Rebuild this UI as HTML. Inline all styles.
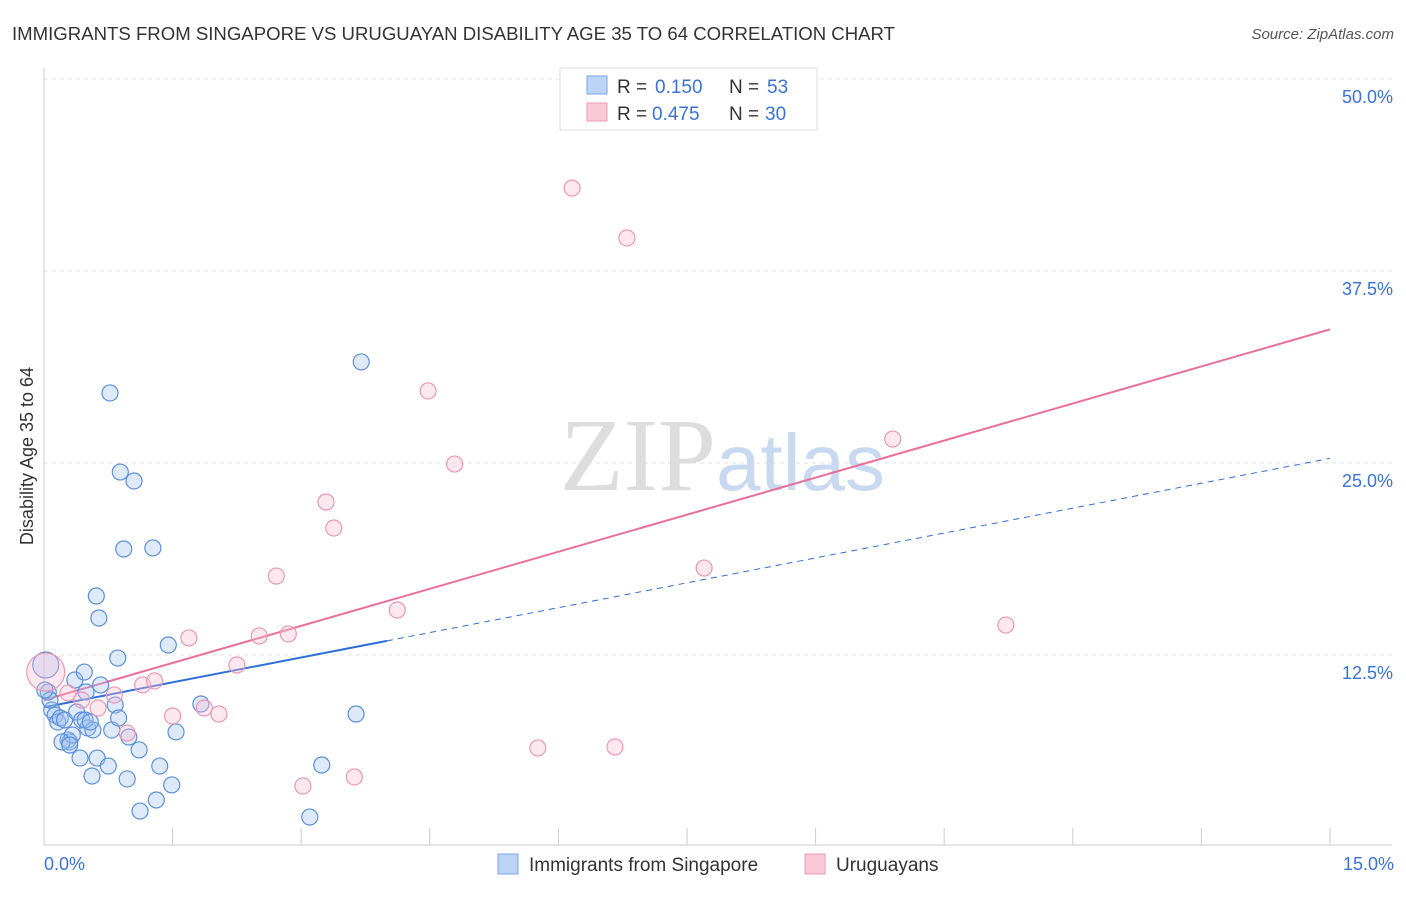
<!DOCTYPE html>
<html><head><meta charset="utf-8"><style>
body{margin:0;background:#fff;font-family:"Liberation Sans",sans-serif}
</style></head><body>
<svg width="1406" height="892" viewBox="0 0 1406 892" xmlns="http://www.w3.org/2000/svg">
<text x="12" y="40" font-size="18" fill="#333" textLength="883" lengthAdjust="spacingAndGlyphs">IMMIGRANTS FROM SINGAPORE VS URUGUAYAN DISABILITY AGE 35 TO 64 CORRELATION CHART</text>
<text x="1394" y="39" font-size="15" fill="#555" font-style="italic" text-anchor="end">Source: ZipAtlas.com</text>
<g id="grid"></g>
<text x="716" y="490" font-size="104" fill="#ddd" text-anchor="end" font-family="Liberation Serif,serif">ZIP</text>
<text x="716" y="490" font-size="80" fill="#c9daf0">atlas</text>
<line x1="44" y1="68" x2="44" y2="845" stroke="#ccc"/>
<line x1="44" y1="845" x2="1392" y2="845" stroke="#ccc"/>
<g id="xticks"></g>
<g id="yticks"></g>
<text x="44" y="870" font-size="18" fill="#3a72d8">0.0%</text>
<text x="1394" y="870" font-size="18" fill="#3a72d8" text-anchor="end">15.0%</text>
<text transform="translate(33,456) rotate(-90)" font-size="18" fill="#333" text-anchor="middle">Disability Age 35 to 64</text>
<g id="lines"></g>
<g id="pts"></g>
<g>
<rect x="560" y="68" width="257" height="62" fill="#fff" stroke="#ddd"/>
<rect x="587" y="76" width="20" height="18" fill="#bcd4f6" stroke="#7aa5e8"/>
<rect x="587" y="103" width="20" height="18" fill="#f9c9d8" stroke="#ee9ab5"/>
<g font-size="19" fill="#333">
<text x="617" y="93">R =</text><text x="655" y="93" fill="#3a72d8">0.150</text><text x="729" y="93">N =</text><text x="767" y="93" fill="#3a72d8">53</text></g>
<g font-size="19" fill="#333">
<text x="617" y="120">R =</text><text x="652" y="120" fill="#3a72d8">0.475</text><text x="729" y="120">N =</text><text x="765" y="120" fill="#3a72d8">30</text></g>
</g>
<g>
<rect x="498" y="854" width="20" height="20" fill="#bcd4f6" stroke="#7aa5e8"/>
<text x="529" y="871" font-size="19" fill="#333">Immigrants from Singapore</text>
<rect x="805" y="854" width="20" height="20" fill="#f9c9d8" stroke="#ee9ab5"/>
<text x="836" y="871" font-size="19" fill="#333">Uruguayans</text>
</g>
</svg>
<script>
const yTicks=[12.5,25,37.5,50];
const yTickLabels=["12.5%","25.0%","37.5%","50.0%"];
const blueX=[0.02,0.05,0.09,0.13,0.16,0.19,0.24,0.28,0.30,0.33,0.36,0.38,0.42,0.44,0.47,0.49,0.51,0.56,0.57,0.61,0.62,0.64,0.66,0.75,0.77,0.79,0.83,0.86,0.87,0.89,0.93,0.97,0.99,1.05,1.11,1.12,1.27,1.31,1.35,1.45,1.49,1.54,1.83,3.10,3.24,3.64,3.70,0.21,0.30,0.48,0.54,0.07,0.01];
const blueY=[11.85,10.09,8.92,8.59,8.14,8.40,8.27,6.97,6.84,7.29,10.87,8.79,5.79,8.27,11.39,10.09,7.75,4.62,7.62,16.34,5.79,14.91,10.55,5.27,29.56,7.62,9.24,12.30,8.40,24.41,19.40,4.43,7.16,23.83,6.32,2.34,19.47,3.06,5.27,13.15,4.04,7.49,9.31,1.95,5.34,8.66,31.58,6.84,6.64,8.27,8.14,9.57,10.22];
const pinkX=[0.02,0.28,0.44,0.63,0.82,0.97,1.15,1.29,1.50,1.69,1.87,2.04,2.25,2.51,2.71,2.85,3.02,3.29,3.38,3.62,4.12,4.48,4.79,5.76,6.16,6.66,6.80,7.70,9.90,11.22];
const pinkY=[11.39,10.03,9.57,9.05,9.90,7.42,10.55,10.81,8.53,13.61,9.05,8.66,11.85,13.74,17.64,13.87,3.97,22.46,20.77,4.56,15.43,29.69,24.93,6.45,42.90,6.51,39.65,18.16,26.56,14.45];
const blueTrend=[9.1,25.3];
const pinkTrend=[9.57,33.7];
const NS="http://www.w3.org/2000/svg";
const sx=v=>44+v*85.73, sy=v=>847-v*15.36;
function mk(tag,attrs,parent){const e=document.createElementNS(NS,tag);for(const k in attrs)e.setAttribute(k,attrs[k]);document.getElementById(parent).appendChild(e);return e;}
yTicks.forEach((t,i)=>{
 const l=mk('line',{x1:44,x2:1392,y1:sy(t),y2:sy(t),stroke:'#e2e2e2','stroke-dasharray':'4,4'},'grid');
 
 
 const tx=mk('text',{x:1393,y:sy(t)+24,'font-size':18,fill:'#3a72d8','text-anchor':'end'},'yticks');
 tx.textContent=yTickLabels[i];
 
 
});
for(let i=1;i<=10;i++){
 const l=mk('line',{x1:sx(i*1.5),x2:sx(i*1.5),y1:828,y2:845,stroke:'#ccc'},'xticks');
 
 
}
const by=x=>blueTrend[0]+(blueTrend[1]-blueTrend[0])*x/15;
let l=mk('line',{x1:sx(0),y1:sy(by(0)),x2:sx(4),y2:sy(by(4)),stroke:'#2f6fd6','stroke-width':2},'lines');


l=mk('line',{x1:sx(4),y1:sy(by(4)),x2:sx(15),y2:sy(by(15)),stroke:'#2f6fd6','stroke-width':1,'stroke-dasharray':'6,5'},'lines');


l=mk('line',{x1:sx(0),y1:sy(pinkTrend[0]),x2:sx(15),y2:sy(pinkTrend[1]),stroke:'#e8709a','stroke-width':2},'lines');


blueX.forEach((x,i)=>{
 const c=mk('circle',{cx:sx(x),cy:sy(blueY[i]),r:i==0?13:8,fill:'rgba(160,195,240,0.35)',stroke:'#5b8fdc','stroke-width':1.2},'pts');
 
 
});
pinkX.forEach((x,i)=>{
 const c=mk('circle',{cx:sx(x),cy:sy(pinkY[i]),r:i==0?19:8,fill:'rgba(248,190,210,0.35)',stroke:'#eb97b3','stroke-width':1.2},'pts');
 
 
});
</script>
</body></html>
